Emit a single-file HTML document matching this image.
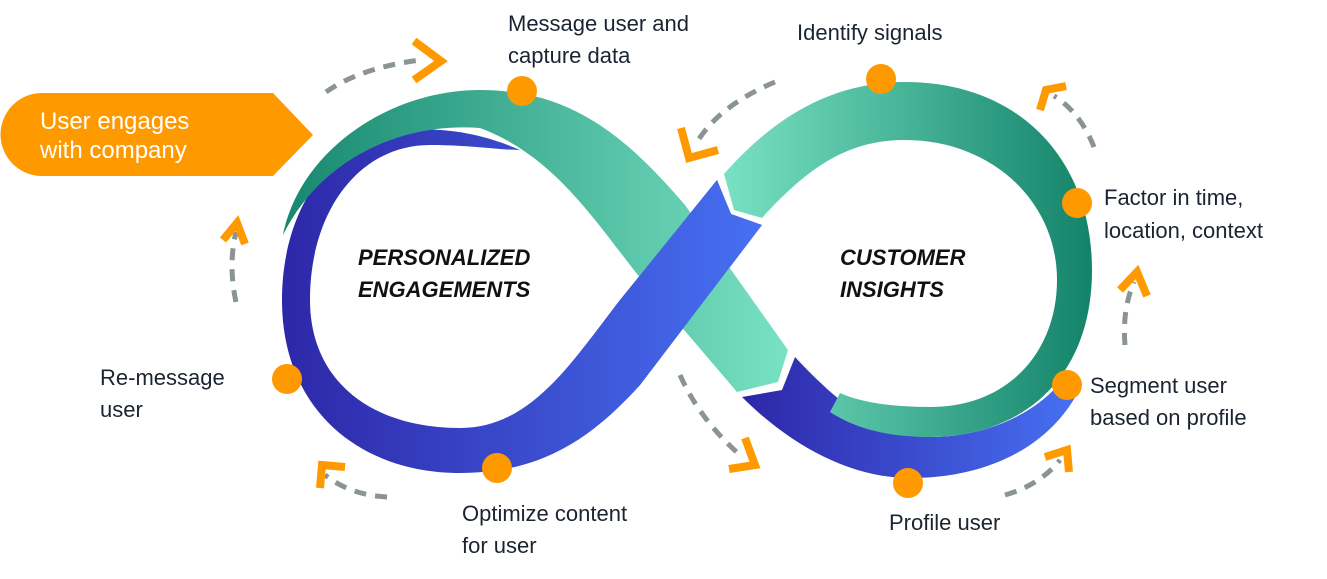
<!DOCTYPE html>
<html><head><meta charset="utf-8"><style>
html,body{margin:0;padding:0;background:#fff;}
svg{display:block;}
text{font-family:"Liberation Sans",sans-serif;}
.lbl{font-size:22px;fill:#1b2430;}
.ctr{font-size:22px;font-weight:bold;font-style:italic;fill:#111;}
.dash{fill:none;stroke:#8a9396;stroke-width:5;stroke-dasharray:12 9;}
.chev{fill:none;stroke:#f90;stroke-width:8;stroke-linejoin:miter;}
</style></head><body>
<svg width="1327" height="579" viewBox="0 0 1327 579" xmlns="http://www.w3.org/2000/svg">
<defs>
<linearGradient id="gTL" x1="283" y1="0" x2="790" y2="0" gradientUnits="userSpaceOnUse">
<stop offset="0" stop-color="#178870"/><stop offset="1" stop-color="#7ae2c4"/></linearGradient>
<linearGradient id="gTR" x1="722" y1="0" x2="1092" y2="0" gradientUnits="userSpaceOnUse">
<stop offset="0" stop-color="#7ae2c4"/><stop offset="1" stop-color="#13836a"/></linearGradient>
<linearGradient id="gBL" x1="282" y1="0" x2="762" y2="0" gradientUnits="userSpaceOnUse">
<stop offset="0" stop-color="#2d27a8"/><stop offset="1" stop-color="#4770f2"/></linearGradient>
<linearGradient id="gBR" x1="742" y1="0" x2="1078" y2="0" gradientUnits="userSpaceOnUse">
<stop offset="0" stop-color="#2d27a8"/><stop offset="1" stop-color="#4770f2"/></linearGradient>
<clipPath id="cx"><rect x="570" y="0" width="300" height="579"/></clipPath>
<path id="blueL" d="M520,150 C470,128 420,125 380,135 C320,155 282,220 282,300 C282,410 360,473 460,473 C540,473 590,440 640,385 L762,225 L731,214 L717,180 L620,300 C570,365 530,428 460,428 C370,428 310,380 310,300 C310,210 360,145 430,145 C470,145 500,150 520,150 Z"/>
</defs>

<path d="M42,93 L273,93 L313,135 L273,176 L42,176 A41.5,41.5 0 0 1 42,93 Z" fill="#f90"/>
<text x="40" y="129" style="font-size:24px" fill="#fff">User engages</text>
<text x="40" y="158" style="font-size:24px" fill="#fff">with company</text>

<use href="#blueL" fill="url(#gBL)"/>
<path d="M283,235 C300,150 390,90 480,90 C570,90 625,135 685,205 L788,350 L778,382 L737,392 L650,290 C600,230 560,158 480,128 C400,122 320,160 283,235 Z" fill="url(#gTL)"/>
<use href="#blueL" fill="url(#gBL)" clip-path="url(#cx)"/>
<path d="M742,397 L782,390 L795,357 C840,405 880,437 930,437 C990,437 1040,410 1062,380 L1078,392 C1050,445 990,478 910,478 C850,478 790,445 742,397 Z" fill="url(#gBR)"/>
<path d="M724,174 C780,110 840,82 905,82 C1020,82 1092,160 1092,270 C1092,380 1020,437 930,437 C880,437 850,425 830,412 L840,393 C860,402 890,407 930,407 C1010,407 1057,350 1057,280 C1057,200 990,140 905,140 C850,140 810,165 762,218 L734,210 Z" fill="url(#gTR)"/>

<g fill="#f90">
<circle cx="522" cy="91" r="15"/><circle cx="881" cy="79" r="15"/>
<circle cx="1077" cy="203" r="15"/><circle cx="1067" cy="385" r="15"/>
<circle cx="908" cy="483" r="15"/><circle cx="497" cy="468" r="15"/>
<circle cx="287" cy="379" r="15"/>
</g>

<path class="dash" d="M326,92 Q360,68 420,60"/>
<path class="dash" d="M775,82 Q720,105 697,142"/>
<path class="dash" d="M1094,147 Q1080,112 1054,96"/>
<path class="dash" d="M1125,345 Q1122,310 1134,282"/>
<path class="dash" d="M1005,495 Q1040,485 1060,460"/>
<path class="dash" d="M680,375 Q700,420 740,455"/>
<path class="dash" d="M387,497 Q350,495 325,475"/>
<path class="dash" d="M236,302 Q228,265 236,232"/>

<path class="chev" d="M414,41 L441,61 L414,80"/>
<path class="chev" d="M681,128 L689,158 L718,150"/>
<path class="chev" d="M1040,110 L1046,90 L1066,86"/>
<path class="chev" d="M1120,290 L1137,272 L1147,296"/>
<path class="chev" d="M1045,457 L1067,450 L1069,472"/>
<path class="chev" d="M729,469 L755,465 L745,438"/>
<path class="chev" d="M320,488 L322,465 L345,467"/>
<path class="chev" d="M223,240 L237,223 L245,244"/>

<text class="lbl" x="508" y="31">Message user and</text>
<text class="lbl" x="508" y="63">capture data</text>
<text class="lbl" x="797" y="40">Identify signals</text>
<text class="lbl" x="1104" y="205">Factor in time,</text>
<text class="lbl" x="1104" y="238">location, context</text>
<text class="lbl" x="1090" y="393">Segment user</text>
<text class="lbl" x="1090" y="425">based on profile</text>
<text class="lbl" x="889" y="530">Profile user</text>
<text class="lbl" x="462" y="521">Optimize content</text>
<text class="lbl" x="462" y="553">for user</text>
<text class="lbl" x="100" y="385">Re-message</text>
<text class="lbl" x="100" y="417">user</text>
<text class="ctr" x="358" y="265">PERSONALIZED</text>
<text class="ctr" x="358" y="297">ENGAGEMENTS</text>
<text class="ctr" x="840" y="265">CUSTOMER</text>
<text class="ctr" x="840" y="297">INSIGHTS</text>
</svg>
</body></html>
